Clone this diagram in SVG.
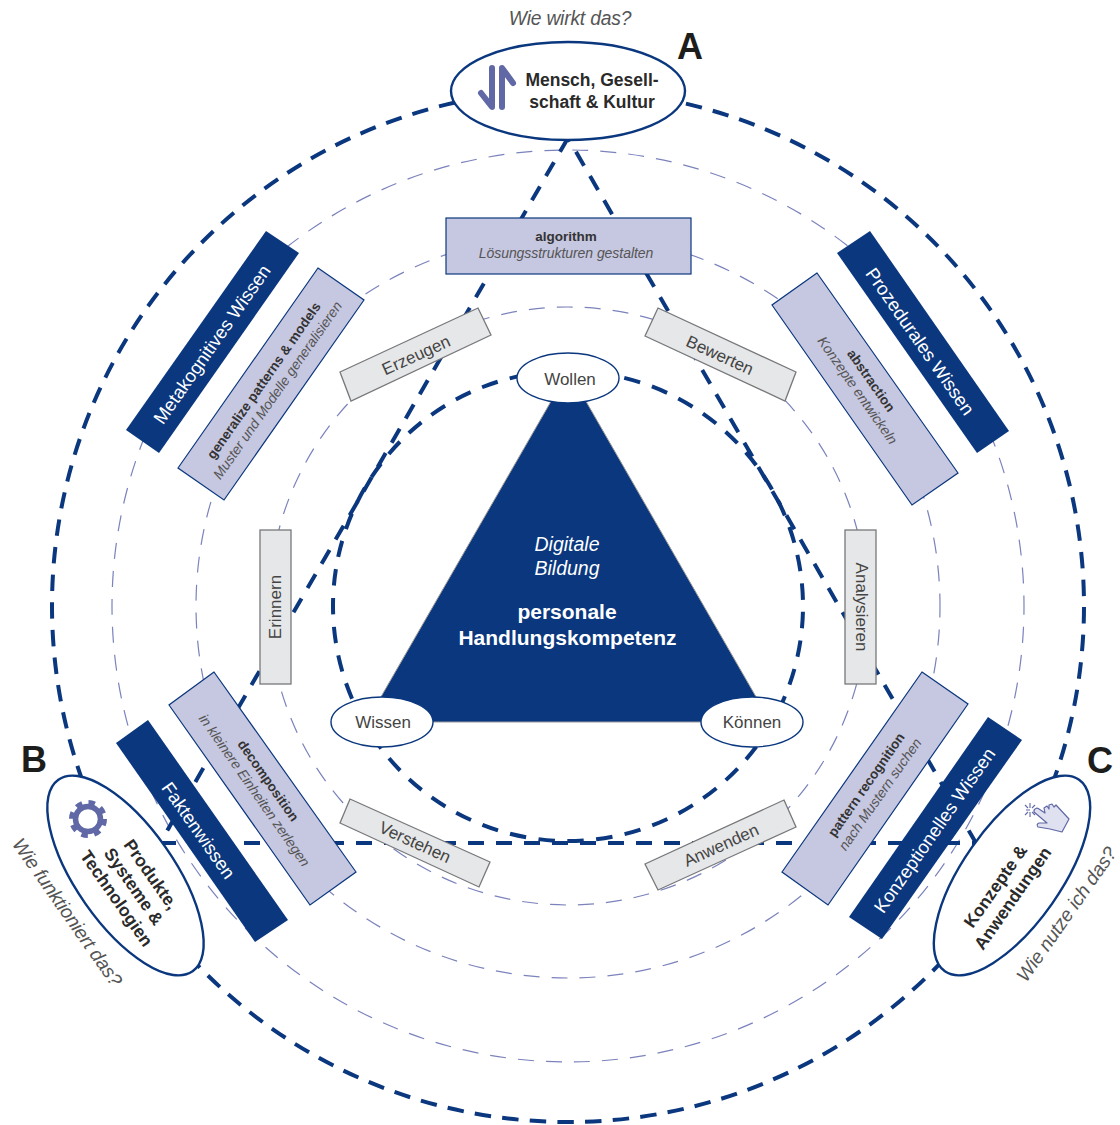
<svg xmlns="http://www.w3.org/2000/svg" width="1120" height="1125" viewBox="0 0 1120 1125">
<style>
text{font-family:"Liberation Sans",Arial,sans-serif;text-anchor:middle;fill:#2a2a2a}
.thin{fill:none;stroke:#7b82bc;stroke-width:1.2;stroke-dasharray:16 12.050}
.thick{fill:none;stroke:#0a377e;stroke-width:4;stroke-dasharray:16 12}
.ring{fill:none;stroke:#0a377e;stroke-width:4}
.dark{fill:#0a377e}
.lav{fill:#c6c7e0;stroke:#0a377e;stroke-width:1.200}
.gray{fill:#e6e7e8;stroke:#77787b;stroke-width:1.300}
.el{fill:#fff;stroke:#0a377e;stroke-width:2.400}
.el2{fill:#fff;stroke:#0a377e;stroke-width:1.400}
.t19{font-size:18.500px;fill:#fff}
.b13{font-size:13.500px;font-weight:bold;fill:#333}
.i13{font-size:14px;font-style:italic;fill:#555;letter-spacing:-.05px}
.g16{font-size:17px;fill:#444}
.q{font-size:19.300px;font-style:italic;fill:#555;letter-spacing:-.2px}
.n16{font-size:17.500px;font-weight:bold}
.L{font-size:36px;font-weight:bold;fill:#1d1d1b}
.w{fill:#fff}
</style>
<g id="connectors">
<circle class="thin" cx="568" cy="606" r="456" stroke-dashoffset="-21"/>
<circle class="thin" cx="568" cy="606" r="372" stroke-dashoffset="-23.600"/>
<circle class="thin" cx="568" cy="606" r="299" stroke-dashoffset="-22.700"/>
<circle class="ring" cx="568" cy="606" r="516" stroke-dasharray="16.500 11.210" stroke-dashoffset="-1"/>
<circle class="ring" cx="568" cy="606" r="235" stroke-dasharray="16.500 12.450" stroke-dashoffset="-5.800"/>
<path class="thick" d="M568 138 L160 843"/>
<path class="thick" d="M568 138 L976 843" stroke-dashoffset="12"/>
<path class="thick" d="M160 843 L976 843"/>
</g>
<g id="triangle">
<polygon class="dark" stroke="#9a9a9a" stroke-width="1" points="568.500,371 366.500,722 770.500,722"/>
<text class="w" x="567" y="551" font-size="19.500" font-style="italic">Digitale</text>
<text class="w" x="567" y="575" font-size="19.500" font-style="italic">Bildung</text>
<text class="w" x="567" y="619" font-size="21" font-weight="bold">personale</text>
<text class="w" x="567.500" y="645" font-size="21" font-weight="bold">Handlungskompetenz</text>
</g>
<g id="wollen"><ellipse class="el2" cx="568" cy="378" rx="51" ry="25"/><text class="g16" x="570" y="385">Wollen</text></g>
<g id="wissen"><ellipse class="el2" cx="382" cy="722" rx="51" ry="25"/><text class="g16" x="383" y="728">Wissen</text></g>
<g id="koennen"><ellipse class="el2" cx="752" cy="722" rx="51" ry="25"/><text class="g16" x="752" y="728">Können</text></g>
<g id="algorithm"><rect class="lav" x="446" y="218" width="245" height="56"/><text class="b13" x="566" y="241">algorithm</text><text class="i13" x="566" y="258">Lösungsstrukturen gestalten</text></g>
<g id="erzeugen"><polygon class="gray" points="340,372 478,308 491,335 351,401"/><text class="g16" transform="translate(416,355) rotate(-24.500)" y="6">Erzeugen</text></g>
<g id="bewerten"><polygon class="gray" points="658,308 796,372 785,401 645,336"/><text class="g16" transform="translate(720,355) rotate(24.500)" y="6">Bewerten</text></g>
<g id="erinnern"><rect class="gray" x="260" y="530" width="31" height="154"/><text class="g16" transform="translate(274.500,607) rotate(-90)" y="6">Erinnern</text></g>
<g id="analysieren"><rect class="gray" x="845" y="530" width="31" height="154"/><text class="g16" transform="translate(862,607) rotate(90)" y="6">Analysieren</text></g>
<g id="verstehen"><polygon class="gray" points="350,799 490,862 479,887 340,823"/><text class="g16" transform="translate(415,842) rotate(24.500)" y="6">Verstehen</text></g>
<g id="anwenden"><polygon class="gray" points="784,800 796,827 658,890 645,864"/><text class="g16" transform="translate(721,845) rotate(-24.500)" y="6">Anwenden</text></g>
<g id="metakognitiv"><polygon class="dark" points="266,231 299,253 159,453 126,430"/><text class="t19" transform="translate(211.500,344) rotate(-55)" y="7">Metakognitives Wissen</text></g>
<g id="prozedural"><polygon class="dark" points="870,231 837,253 977,453 1009,431"/><text class="t19" transform="translate(920.500,341) rotate(55)" y="7">Prozedurales Wissen</text></g>
<g id="fakten"><polygon class="dark" points="148,720 116,743 255,942 288,920"/><text class="t19" transform="translate(199,830) rotate(55)" y="7">Faktenwissen</text></g>
<g id="konzeptionell"><polygon class="dark" points="988,717 1022,740 882,939 849,917"/><text class="t19" transform="translate(934,830) rotate(-55)" y="7">Konzeptionelles Wissen</text></g>
<g id="generalize"><polygon class="lav" points="318,268 364,300 224,500 178,468"/><g transform="translate(270,385) rotate(-55)"><text class="b13" y="-3">generalize patterns &amp; models</text><text class="i13" y="14">Muster und Modelle generalisieren</text></g></g>
<g id="abstraction"><polygon class="lav" points="817,273 772,305 912,505 958,473"/><g transform="translate(865,385) rotate(55)"><text class="b13" y="-3">abstraction</text><text class="i13" y="14">Konzepte entwickeln</text></g></g>
<g id="decomposition"><polygon class="lav" points="214,672 169,705 310,905 356,872"/><g transform="translate(262,785) rotate(55)"><text class="b13" y="-3">decomposition</text><text class="i13" y="14">in kleinere Einheiten zerlegen</text></g></g>
<g id="pattern"><polygon class="lav" points="922,672 968,704 828,905 782,872"/><g transform="translate(872.500,789) rotate(-55)"><text class="b13" y="-3">pattern recognition</text><text class="i13" y="14">nach Mustern suchen</text></g></g>
<g id="nodeA"><ellipse class="el" cx="568" cy="91" rx="117" ry="49"/>
<path d="M492 68V107L481 93M502 107V68L513 83" fill="none" stroke="#6068a6" stroke-width="6" stroke-linecap="round" stroke-linejoin="round"/>
<text class="n16" x="592" y="86">Mensch, Gesell-</text><text class="n16" x="592" y="108">schaft &amp; Kultur</text></g>
<g id="nodeB"><ellipse class="el" cx="125.500" cy="875.500" rx="117" ry="49" transform="rotate(55 125.500 875.500)"/>
<circle cx="88" cy="819" r="12.500" fill="none" stroke="#6068a6" stroke-width="5.500"/>
<circle cx="88" cy="819" r="16.500" fill="none" stroke="#6068a6" stroke-width="5" stroke-dasharray="6.500 6.460"/>
<g transform="translate(133,887) rotate(55)"><text class="n16" y="-16">Produkte,</text><text class="n16" y="5">Systeme &amp;</text><text class="n16" y="26">Technologien</text></g></g>
<g id="nodeC"><ellipse class="el" cx="1012" cy="875.500" rx="117" ry="49" transform="rotate(-55 1012 875.500)"/>
<path d="M1034 810Q1036 807 1039 809L1045 813L1044 808L1047 806L1049 809L1049 805L1052 804L1054 807L1056 805L1069 819L1062 832L1050 829L1038 827Q1036 824 1039 823L1047 823L1034 812Z" fill="#dfe1f0" stroke="#6068a6" stroke-width="1.200" stroke-linejoin="round"/>
<path d="M1026 810h4M1034 810h1M1030 803v5M1030 812v5M1025 805l3 3M1032 812l3 3M1025 815l3-3M1032 808l3-3" stroke="#6068a6" stroke-width="1.100" fill="none"/>
<g transform="translate(1004.500,892.500) rotate(-55)"><text class="n16" y="-5">Konzepte &amp;</text><text class="n16" y="16">Anwendungen</text></g></g>
<text class="q" x="570" y="25">Wie wirkt das?</text>
<text class="q" transform="translate(62,916) rotate(55)">Wie funktioniert das?</text>
<text class="q" transform="translate(1072,918) rotate(-55)">Wie nutze ich das?</text>
<text class="L" x="690" y="59">A</text>
<text class="L" x="34" y="772">B</text>
<text class="L" x="1100" y="773">C</text>
</svg>
